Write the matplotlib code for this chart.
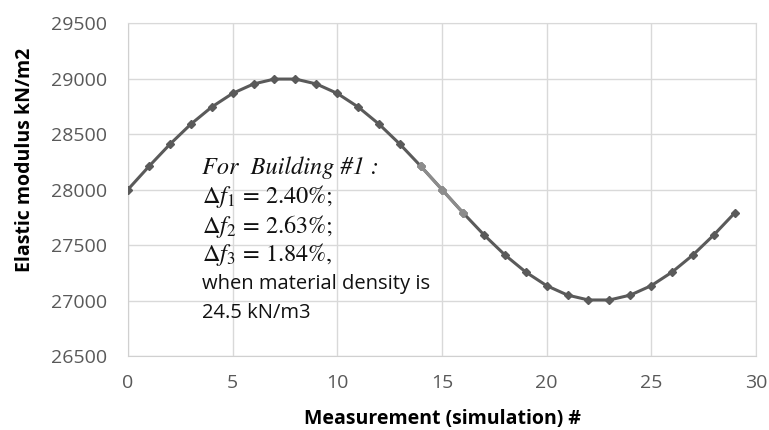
import matplotlib
matplotlib.use("Agg")
import matplotlib.pyplot as plt

measurement = list(range(30))
modulus = [28000, 28208, 28407, 28588, 28743, 28866, 28951, 28995, 28995, 28951,
           28866, 28743, 28588, 28407, 28208, 28000, 27792, 27593, 27412, 27257,
           27134, 27049, 27005, 27005, 27049, 27134, 27257, 27412, 27593, 27792]
light_idx = [14, 15, 16]

x_ticks = [0, 5, 10, 15, 20, 25, 30]
y_ticks = [26500, 27000, 27500, 28000, 28500, 29000, 29500]

plt.rcParams['font.family'] = ['Open Sans', 'DejaVu Sans']
plt.rcParams['mathtext.fontset'] = 'stix'

fig = plt.figure(figsize=(7.69, 4.30), dpi=100)
ax = fig.add_axes([0.1664, 0.172, 0.8166, 0.7745])

ax.plot(measurement, modulus, color='#5a5a5a', lw=2.2, marker='D', ms=4.5,
        markeredgecolor='#5a5a5a', markerfacecolor='#5a5a5a', zorder=3)
lx = [measurement[i] for i in light_idx]
ly = [modulus[i] for i in light_idx]
ax.plot(lx, ly, color='#8c8c8c', lw=2.2, marker='D', ms=4.5,
        markeredgecolor='#8c8c8c', markerfacecolor='#8c8c8c', zorder=4)

ax.set_xlim(0, 30)
ax.set_ylim(26500, 29500)
ax.set_xticks(x_ticks)
ax.set_yticks(y_ticks)
ax.grid(True, color='#d9d9d9', lw=1.0)
ax.set_axisbelow(True)
for s in ['top', 'right']:
    ax.spines[s].set_color('#d9d9d9')
for s in ['left', 'bottom']:
    ax.spines[s].set_color('#d0d0d0')
ax.tick_params(length=0, labelsize=14, labelcolor='#595959')
ax.tick_params(axis='y', pad=15)
ax.tick_params(axis='x', pad=13)
ax.set_xlabel('Measurement (simulation) #', fontsize=14, fontweight='bold', labelpad=12)
fig.text(25 / 769, 1 - 160 / 430, 'Elastic modulus kN/m2', fontsize=14, fontweight='bold',
         rotation=90, ha='center', va='center')

x0 = 202 / 769
fig.text(x0, 1 - 168 / 430, 'For  Building #1 :', family='STIXGeneral', style='italic',
         fontsize=17.5, va='center', ha='left', color='#111111')
math_lines = [r'$\Delta f_1\,=\,2.40\%;$', r'$\Delta f_2\,=\,2.63\%;$', r'$\Delta f_3\,=\,1.84\%,$']
for t, yp in zip(math_lines, [197, 226, 255]):
    fig.text(x0, 1 - yp / 430, t, fontsize=17.5, va='center', ha='left', color='#111111')
for t, yp in zip(['when material density is', '24.5 kN/m3'], [284, 313]):
    fig.text(x0, 1 - yp / 430, t, fontsize=14.5, va='center', ha='left', color='#111111')

fig.savefig('out.png', dpi=100)
